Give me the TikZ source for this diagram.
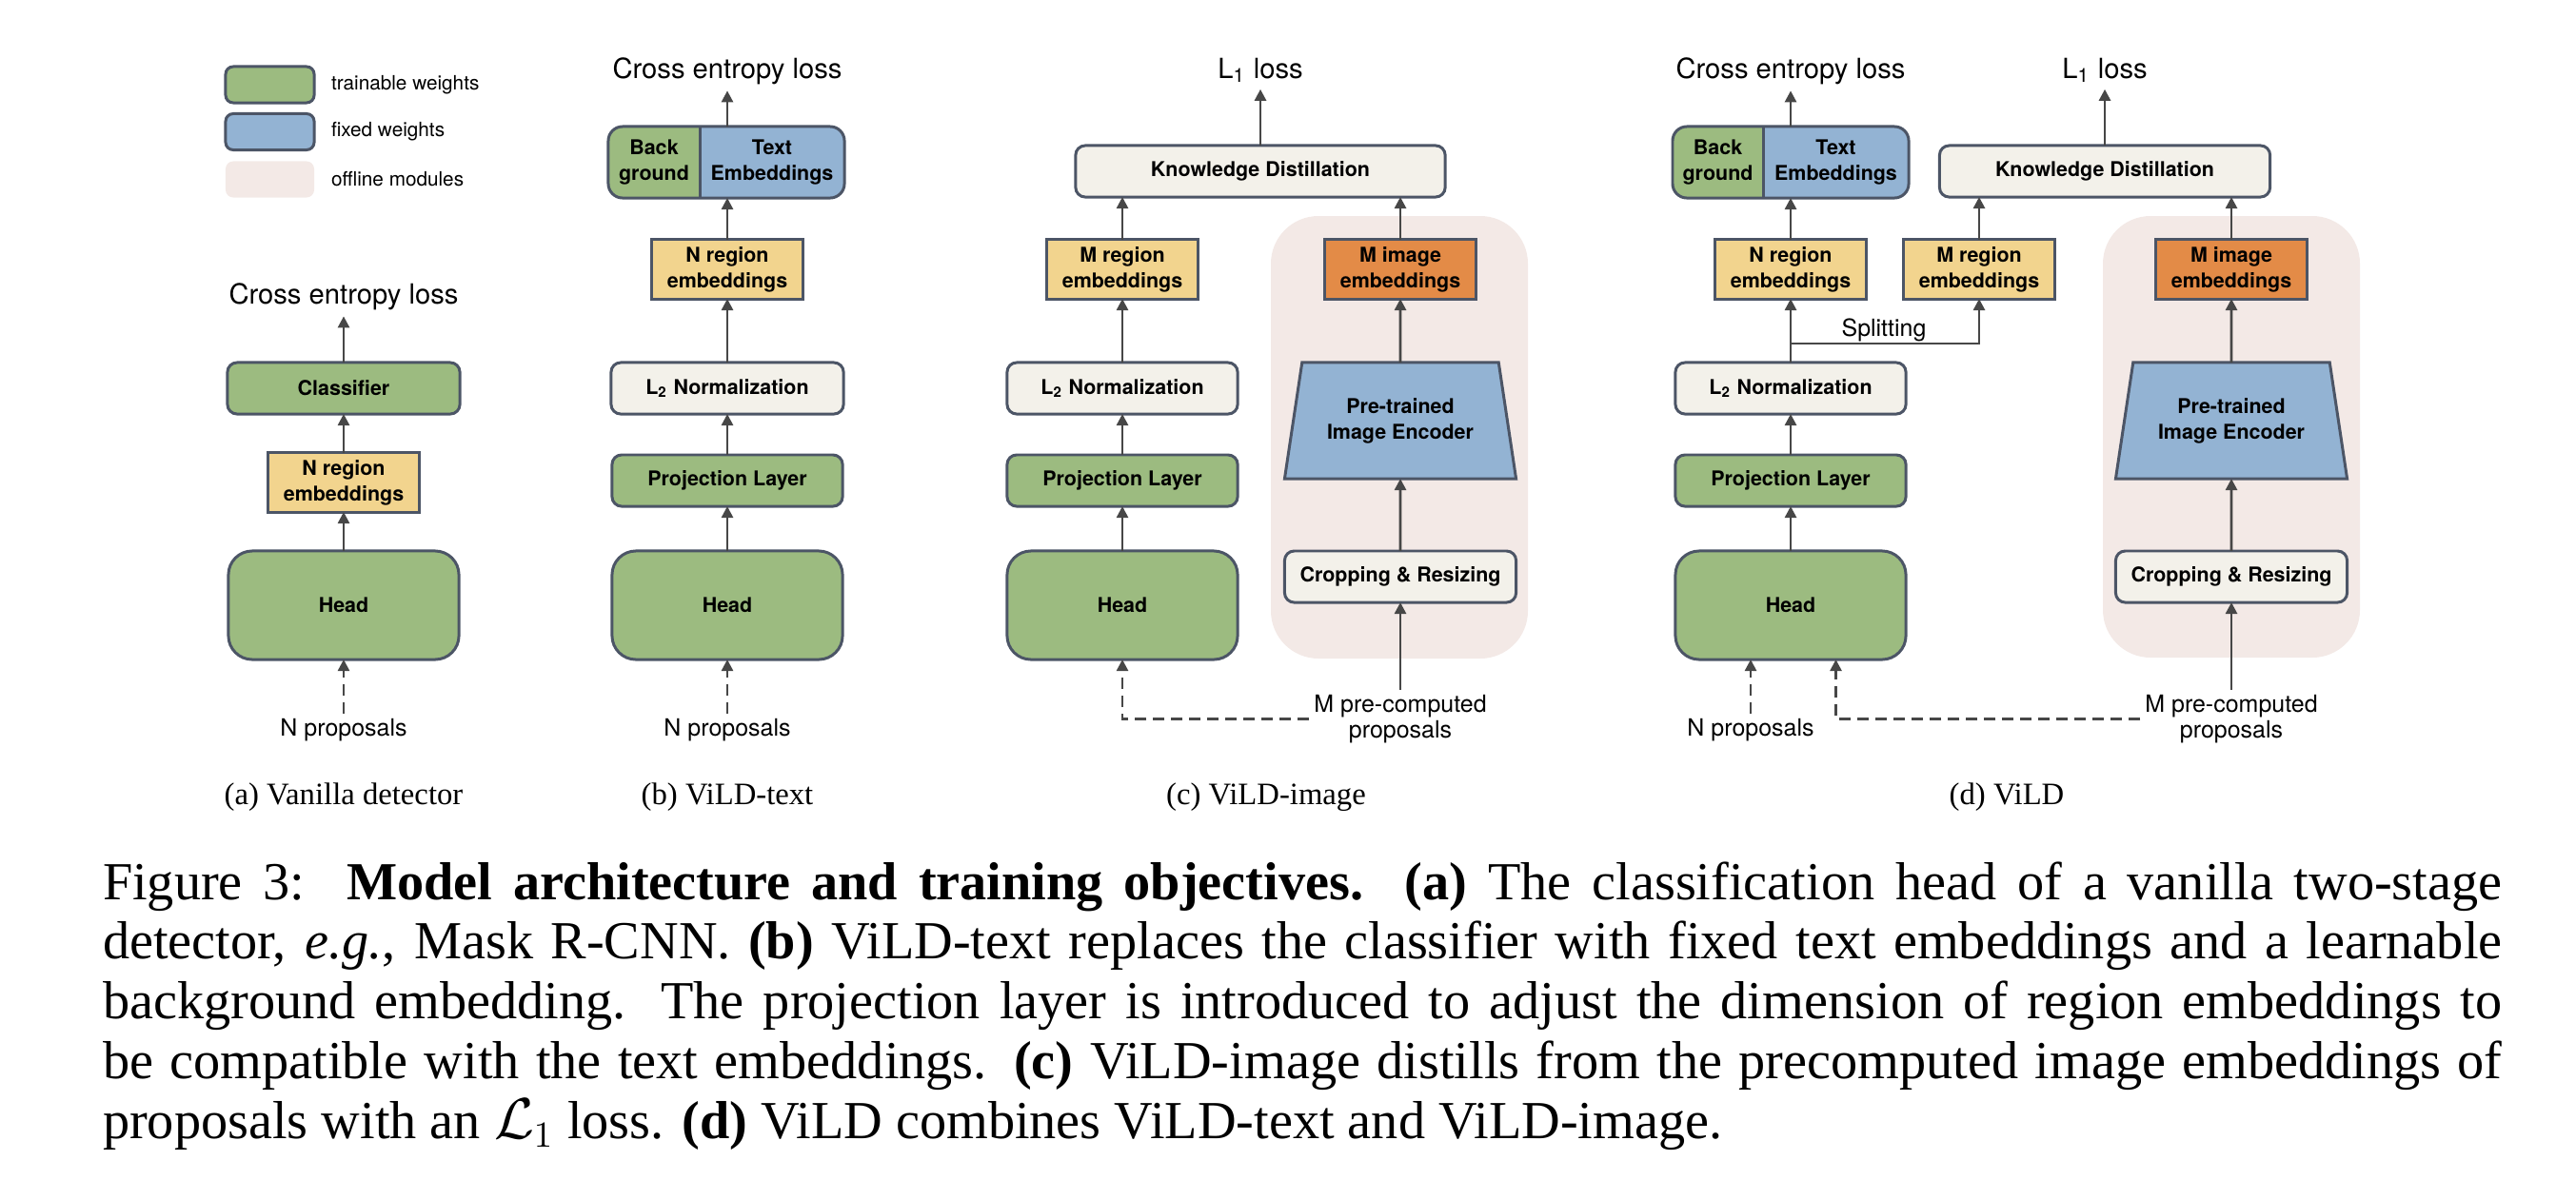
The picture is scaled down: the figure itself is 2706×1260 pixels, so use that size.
\documentclass[tikz,border=0pt]{standalone}
\usepackage{amsmath}
\usepackage{fontspec}
\setmainfont{Liberation Serif}
\setsansfont{TeX Gyre Heros}
\usepackage{tikz}
\usetikzlibrary{positioning,arrows.meta,shapes.geometric}
\usepackage{xcolor}
\definecolor{trainable}{HTML}{9CBB80}
\definecolor{fixedw}{HTML}{93B3D3}
\definecolor{offline}{HTML}{F3E9E6}
\definecolor{regionc}{HTML}{F2D48E}
\definecolor{imagec}{HTML}{E38B47}
\definecolor{neutralc}{HTML}{F3F1EA}
\definecolor{edgec}{HTML}{4C5566}
\definecolor{arrowc}{HTML}{474747}
\newcommand{\boxfont}{\sffamily\bfseries\fontsize{6.1}{7.7}\selectfont}
\newcommand{\lossfont}{\sffamily\fontsize{8.3}{10}\selectfont}
\newcommand{\notefont}{\sffamily\fontsize{7.1}{7.7}\selectfont}

\begin{document}
\begin{tikzpicture}[x=0.01cm,y=-0.01cm,
		every node/.style={outer sep=0},
		blk/.style={draw=edgec,line width=.85pt,inner sep=0,align=center,font=\boxfont},
		train/.style={blk,fill=trainable,rounded corners=.1cm,minimum width=2.42cm,minimum height=.54cm},
		neutral/.style={blk,fill=neutralc,rounded corners=.1cm,minimum width=2.42cm,minimum height=.54cm},
		headbox/.style={train,minimum height=1.14cm,rounded corners=.25cm},
		region/.style={blk,fill=regionc,minimum width=1.59cm,minimum height=.62cm},
		image/.style={region,fill=imagec},
		splitbox/.style={inner sep=0,align=center,font=\boxfont,minimum height=.75cm},
		encoder/.style={blk,fill=fixedw,trapezium,trapezium left angle=69,trapezium right angle=69,trapezium stretches body,minimum width=2.43cm,minimum height=1.22cm},
		legbox/.style={draw=edgec,line width=.85pt,rounded corners=.08cm,minimum width=.93cm,minimum height=.38cm},
		legtext/.style={inner sep=0,font=\sffamily\fontsize{5.9}{7}\selectfont},
		loss/.style={inner sep=.07cm,font=\lossfont},
		note/.style={inner sep=.05cm,align=center,font=\notefont},
		subcap/.style={inner sep=0,font=\rmfamily\fontsize{9.3}{11}\selectfont},
		edgeline/.style={draw=edgec,line width=.85pt},
		arr/.style={draw=arrowc,line width=.75pt,-{Triangle[length=.12cm,width=.12cm]}},
		darr/.style={arr,dash pattern=on .12cm off .07cm}]
		\useasboundingbox (0,0) rectangle (2706,1260);
		% legend
		\node[legbox,fill=trainable] (legT) at (283.5,89) {};
		\node[legbox,fill=fixedw] (legF) at (283.5,138.5) {};
		\node[legbox,fill=offline,draw=none] (legO) at (283.5,188.5) {};
		\node[legtext,right=.18cm of legT] (legTt) {trainable weights};
		\node[legtext,right=.18cm of legF] (legFt) {fixed weights};
		\node[legtext,right=.18cm of legO] (legOt) {offline modules};
		% (a) vanilla detector
		\node[loss,anchor=base] (lossA) at (361,319) {Cross entropy loss};
		\node[train,minimum width=2.44cm] (clsA) at (361,408) {Classifier};
		\node[region,minimum width=1.58cm] (nregA) at (361,507) {N region\\embeddings};
		\node[headbox] (headA) at (361,636) {Head};
		\node[note,anchor=base] (npropA) at (361,773) {N proposals};
		\node[subcap,anchor=base] (capA) at (361,845) {(a) Vanilla detector};
		\draw[arr] (headA) -- (nregA);
		\draw[arr] (nregA) -- (clsA);
		\draw[arr] (clsA) -- (lossA);
		\draw[darr] (npropA) -- (headA);
		% (b) ViLD-text
		\node[loss,anchor=base] (lossB) at (764,82) {Cross entropy loss};
		\begin{scope}
			\clip[rounded corners=.15cm] (639,133) rectangle (887,208);
			\node[splitbox,fill=trainable,minimum width=.96cm] (bgB) at (687,170.5) {Back\\ground};
			\node[splitbox,fill=fixedw,minimum width=1.52cm] (txtB) at (811,170.5) {Text\\Embeddings};
		\end{scope}
		\draw[edgeline,rounded corners=.15cm] (bgB.north west) rectangle (txtB.south east);
		\draw[edgeline] (bgB.north east) -- (bgB.south east);
		\node[region] (nregB) at (764,283) {N region\\embeddings};
		\node[neutral,minimum width=2.44cm] (l2B) at (764,408) {L\textsubscript{2} Normalization};
		\node[train] (projB) at (764,505) {Projection Layer};
		\node[headbox] (headB) at (764,636) {Head};
		\node[note,anchor=base] (npropB) at (764,773) {N proposals};
		\node[subcap,anchor=base] (capB) at (764,845) {(b) ViLD-text};
		\draw[arr] (headB) -- (projB);
		\draw[arr] (projB) -- (l2B);
		\draw[arr] (l2B) -- (nregB);
		\draw[arr] (nregB) -- (nregB |- txtB.south);
		\draw[arr] (nregB |- txtB.north) -- (lossB);
		\draw[darr] (npropB) -- (headB);
		% (c) ViLD-image
		\fill[offline,rounded corners=.5cm] (1335,227) rectangle (1605,692);
		\node[loss,anchor=base] (lossC) at (1324,82) {L\textsubscript{1} loss};
		\node[neutral,minimum width=3.88cm] (kdC) at (1324,180) {Knowledge Distillation};
		\node[region] (mregC) at (1179,283) {M region\\embeddings};
		\node[image] (mimgC) at (1471,283) {M image\\embeddings};
		\node[neutral] (l2C) at (1179,408) {L\textsubscript{2} Normalization};
		\node[encoder] (encC) at (1471,442) {Pre-trained\\Image Encoder};
		\node[train] (projC) at (1179,505) {Projection Layer};
		\node[headbox] (headC) at (1179,636) {Head};
		\node[neutral,minimum width=2.43cm] (cropC) at (1471,606) {Cropping \& Resizing};
		\node[note,anchor=north] (mpropC) at (1471,725) {M pre-computed\\proposals};
		\node[subcap,anchor=base] (capC) at (1330,845) {(c) ViLD-image};
		\draw[arr] (headC) -- (projC);
		\draw[arr] (projC) -- (l2C);
		\draw[arr] (l2C) -- (mregC);
		\draw[arr] (mregC) -- (mregC |- kdC.south);
		\draw[arr] (mpropC) -- (cropC);
		\draw[arr] (cropC) -- (encC);
		\draw[arr] (encC) -- (mimgC);
		\draw[arr] (mimgC) -- (mimgC |- kdC.south);
		\draw[arr] (kdC) -- (lossC);
		\draw[darr] (mpropC.west) -| (headC);
		% (d) ViLD
		\fill[offline,rounded corners=.5cm] (2209,227) rectangle (2479,691);
		\node[loss,anchor=base] (lossD) at (1881,82) {Cross entropy loss};
		\node[loss,anchor=base] (klossD) at (2211,82) {L\textsubscript{1} loss};
		\begin{scope}
			\clip[rounded corners=.15cm] (1757,133) rectangle (2005,208);
			\node[splitbox,fill=trainable,minimum width=.95cm] (bgD) at (1804.5,170.5) {Back\\ground};
			\node[splitbox,fill=fixedw,minimum width=1.53cm] (txtD) at (1928.5,170.5) {Text\\Embeddings};
		\end{scope}
		\draw[edgeline,rounded corners=.15cm] (bgD.north west) rectangle (txtD.south east);
		\draw[edgeline] (bgD.north east) -- (bgD.south east);
		\node[neutral,minimum width=3.47cm] (kdD) at (2211,180) {Knowledge Distillation};
		\node[region] (nregD) at (1881,283) {N region\\embeddings};
		\node[region] (mregD) at (2079,283) {M region\\embeddings};
		\node[image] (mimgD) at (2344,283) {M image\\embeddings};
		\coordinate (splitD) at (1881,361);
		\node[note,anchor=base] (splitT) at (1979,353) {Splitting};
		\node[neutral] (l2D) at (1881,408) {L\textsubscript{2} Normalization};
		\node[encoder] (encD) at (2344,442) {Pre-trained\\Image Encoder};
		\node[train] (projD) at (1881,505) {Projection Layer};
		\node[headbox] (headD) at (1881,636) {Head};
		\node[neutral,minimum width=2.43cm] (cropD) at (2344,606) {Cropping \& Resizing};
		\node[note,anchor=base] (npropD) at (1839,773) {N proposals};
		\node[note,anchor=north] (mpropD) at (2344,725) {M pre-computed\\proposals};
		\node[subcap,anchor=base] (capD) at (2108,845) {(d) ViLD};
		\draw[arr] (headD) -- (projD);
		\draw[arr] (projD) -- (l2D);
		\draw[arr] (l2D) -- (nregD);
		\draw[arr] (splitD) -| (mregD);
		\draw[arr] (nregD) -- (nregD |- txtD.south);
		\draw[arr] (nregD |- txtD.north) -- (lossD);
		\draw[arr] (mregD) -- (mregD |- kdD.south);
		\draw[arr] (mpropD) -- (cropD);
		\draw[arr] (cropD) -- (encD);
		\draw[arr] (encD) -- (mimgD);
		\draw[arr] (mimgD) -- (mimgD |- kdD.south);
		\draw[arr] (kdD) -- (klossD);
		\draw[darr] (npropD) -- (npropD |- headD.south);
		\draw[darr] (mpropD.west) -| (txtD |- headD.south);
		% caption
		\node[inner sep=0,text width=25.19cm,align=justify,anchor=base west,font=\rmfamily\fontsize{16}{17.9}\selectfont] (figcap) at (108,945)
		{Figure 3:\ \ \textbf{Model architecture and training objectives.}\ \ \textbf{(a)} The classification head of a vanilla two-stage\linebreak
		detector, \textit{e.g.}, Mask R-CNN. \textbf{(b)} ViLD-text replaces the classifier with fixed text embeddings and a learnable\linebreak
		background embedding.  The projection layer is introduced to adjust the dimension of region embeddings to\linebreak
		be compatible with the text embeddings. \textbf{(c)} ViLD-image distills from the precomputed image embeddings of\linebreak
		proposals with an $\mathcal{L}_1$ loss. \textbf{(d)} ViLD combines ViLD-text and ViLD-image.};
	\end{tikzpicture}
\end{document}
